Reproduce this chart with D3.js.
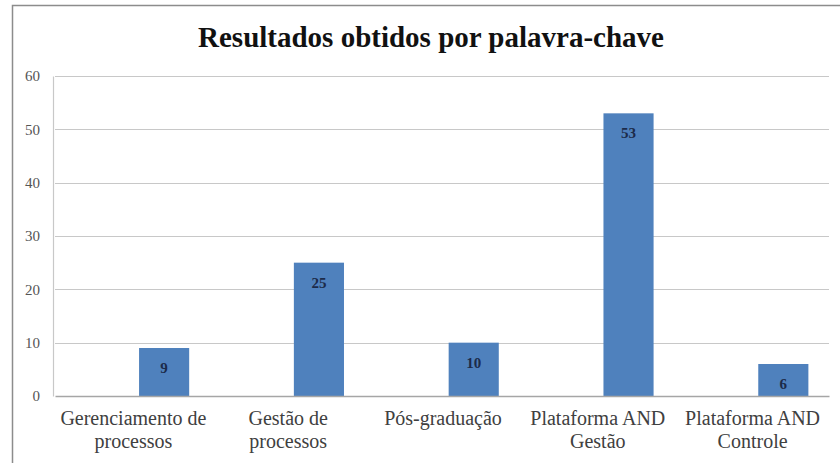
<!DOCTYPE html>
<html>
<head>
<meta charset="utf-8">
<script src="https://cdn.jsdelivr.net/npm/d3@7"></script>
<style>
  html, body { margin: 0; padding: 0; background: #fff; }
  svg { display: block; }
</style>
</head>
<body>
<svg id="chart" width="840" height="463"></svg>
<script>
const title = "Resultados obtidos por palavra-chave";
const categories = [
  ["Gerenciamento de", "processos"],
  ["Gestão de", "processos"],
  ["Pós-graduação"],
  ["Plataforma AND", "Gestão"],
  ["Plataforma AND", "Controle"]
];
const seriesNames = ["", "Resultados"];
const values = [9, 25, 10, 53, 6];
const yTicks = [0, 10, 20, 30, 40, 50, 60];

const FONT = "Liberation Serif";
const svg = d3.select("#chart");
const W = 840, H = 463;
const margin = { left: 55, right: 11, top: 76, bottom: 67 };
const plotW = W - margin.left - margin.right;
const plotH = H - margin.top - margin.bottom;

// outer chart border
svg.append("rect")
  .attr("x", 12.5).attr("y", 5.5)
  .attr("width", 840).attr("height", 470)
  .attr("fill", "#fff").attr("stroke", "#8c8c8c").attr("stroke-width", 1.5);

svg.append("text")
  .attr("x", 431).attr("y", 47)
  .attr("text-anchor", "middle")
  .style("font-family", FONT)
  .style("font-weight", "bold")
  .style("font-size", "29px")
  .attr("fill", "#111")
  .text(title);

const g = svg.append("g").attr("transform", `translate(${margin.left},${margin.top})`);

const keys = categories.map(c => c.join(" "));
const x0 = d3.scaleBand().domain(keys).range([0, plotW]).padding(0);
const x1 = d3.scaleBand().domain(seriesNames).range([0, x0.bandwidth()])
  .paddingInner(0.21).paddingOuter(0.325);
const y = d3.scaleLinear().domain([0, 60]).range([plotH, 0]);

// gridlines
g.append("g").selectAll("line").data(yTicks.filter(t => t > 0)).join("line")
  .attr("x1", 0).attr("x2", plotW)
  .attr("y1", d => Math.round(y(d)) + 0.5).attr("y2", d => Math.round(y(d)) + 0.5)
  .attr("stroke", "#c8c8c8").attr("stroke-width", 1.2);

// y axis
const yAxis = g.append("g").attr("transform", "translate(-2,0)")
  .call(d3.axisLeft(y).tickValues(yTicks).tickSize(0).tickPadding(13));
yAxis.attr("font-family", null);
yAxis.select(".domain").attr("stroke", "#c8c8c8").attr("stroke-width", 1.2);
yAxis.selectAll("text")
  .style("font-family", FONT)
  .style("font-size", "15px").attr("fill", "#555");

// bars
g.append("g").selectAll("rect").data(values).join("rect")
  .attr("x", (d, i) => x0(keys[i]) + x1("Resultados"))
  .attr("width", x1.bandwidth())
  .attr("y", d => y(d))
  .attr("height", d => plotH - y(d))
  .attr("fill", "#4f81bd");

// data labels
g.append("g").selectAll("text").data(values).join("text")
  .attr("x", (d, i) => x0(keys[i]) + x1("Resultados") + x1.bandwidth() / 2)
  .attr("y", d => y(d) + 25)
  .attr("text-anchor", "middle")
  .style("font-family", FONT)
  .style("font-weight", "bold")
  .style("font-size", "15px")
  .attr("fill", "#1c2b4a")
  .text(d => d);

// x axis
const xAxis = g.append("g").attr("transform", `translate(0,${plotH})`)
  .call(d3.axisBottom(x0).tickSize(0).tickFormat(""));
xAxis.select(".domain").attr("stroke", "#a6a6a6").attr("stroke-width", 1.4);

const labels = g.append("g").selectAll("text").data(categories).join("text")
  .attr("x", (d, i) => x0(keys[i]) + x0.bandwidth() / 2 + 1)
  .attr("y", plotH + 29)
  .attr("text-anchor", "middle")
  .style("font-family", FONT)
  .style("font-size", "20px")
  .attr("fill", "#404040");
labels.each(function(d) {
  const t = d3.select(this);
  const cx = t.attr("x");
  d.forEach((line, j) => {
    t.append("tspan").attr("x", cx).attr("dy", j === 0 ? 0 : 23).text(line);
  });
});
</script>
</body>
</html>
